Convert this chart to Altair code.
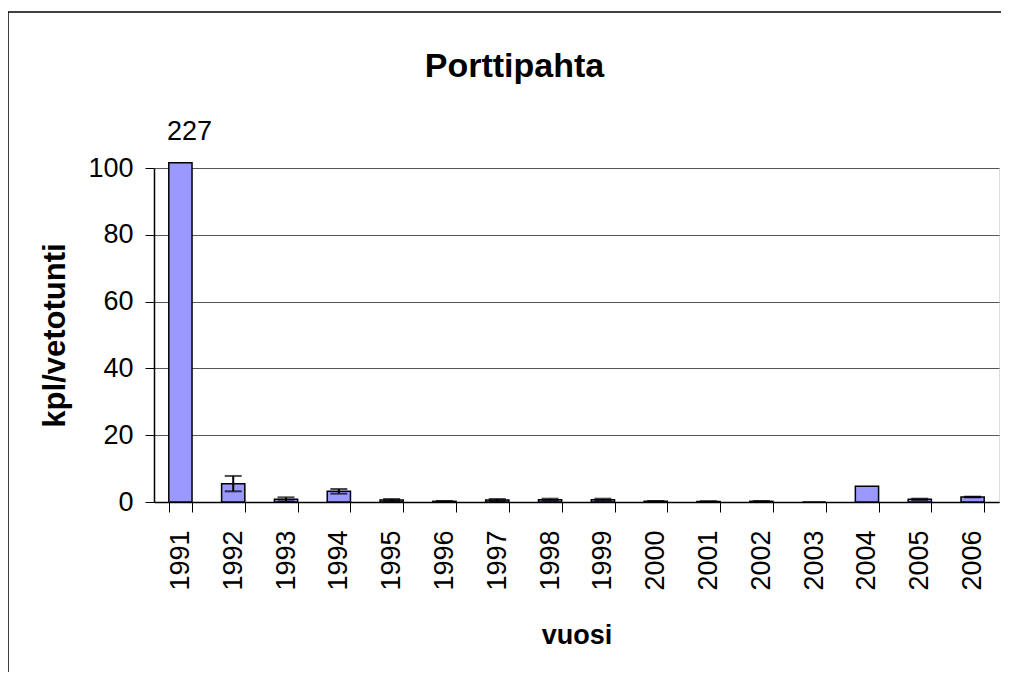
import altair as alt
import pandas as pd

years = ["1991", "1992", "1993", "1994", "1995", "1996", "1997", "1998",
         "1999", "2000", "2001", "2002", "2003", "2004", "2005", "2006"]
values = [227, 5.5, 0.8, 3.2, 0.6, 0.2, 0.6, 0.7, 0.7, 0.2, 0.15, 0.2, 0.0, 4.7, 0.8, 1.5]
errors = [0, 2.3, 0.6, 0.7, 0.3, 0.1, 0.3, 0.3, 0.3, 0.1, 0.05, 0.05, 0.0, 0.0, 0.2, 0.1]
y_ticks = [0, 20, 40, 60, 80, 100]

FONT = "Liberation Sans"

df = pd.DataFrame({"vuosi": years, "arvo": values, "virhe": errors})

x_enc = alt.X("vuosi:N", sort=years,
              scale=alt.Scale(paddingInner=0.56, paddingOuter=0.28),
              axis=alt.Axis(title="vuosi", labelAngle=270, labelFontSize=27, labelFont=FONT,
                            labelColor="black", labelPadding=18, tickSize=10, tickColor="black",
                            tickBand="extent", domainColor="black", domainWidth=1.5,
                            titleFont=FONT, titleFontSize=27, titleFontWeight="bold",
                            titleColor="black", titleY=141, titleBaseline="alphabetic"))

y_scale = alt.Scale(domain=[0, 100], nice=False)

base = alt.Chart(df)

bars = base.transform_calculate(
    shown="min(datum.arvo, 101.6)"
).mark_bar(color="#9999FF", stroke="black", strokeWidth=1.5, clip=False).encode(
    x=x_enc,
    y=alt.Y("shown:Q", scale=y_scale,
            axis=alt.Axis(title="kpl/vetotunti", values=y_ticks, labelFontSize=27, labelFont=FONT,
                          labelColor="black", labelPadding=12, tickSize=9, tickColor="black",
                          domainColor="black", domainWidth=1.5, grid=True, gridColor="#555555",
                          gridWidth=1, titleFont=FONT, titleFontSize=31, titleFontWeight="bold",
                          titleColor="black", titleAngle=270, titleX=-90,
                          titleBaseline="alphabetic")),
)

err = base.transform_filter("datum.virhe > 0 && datum.arvo < 100").transform_calculate(
    lo="datum.arvo - datum.virhe", hi="datum.arvo + datum.virhe"
)

err_rule = err.mark_rule(color="black", strokeWidth=2).encode(
    x=alt.X("vuosi:N", sort=years), y=alt.Y("lo:Q", scale=y_scale), y2="hi:Q"
)

err_caps = err.transform_fold(["lo", "hi"], as_=["kind", "pos"]).mark_tick(
    color="black", thickness=2, size=17
).encode(x=alt.X("vuosi:N", sort=years), y=alt.Y("pos:Q", scale=y_scale))

label = base.transform_filter("datum.arvo > 100").transform_calculate(
    shown="min(datum.arvo, 101.6)"
).mark_text(font=FONT, fontSize=27, color="black", baseline="bottom", dx=9, dy=-17).encode(
    x=alt.X("vuosi:N", sort=years), y=alt.Y("shown:Q", scale=y_scale), text="arvo:Q"
)

frame_top = alt.Chart(pd.DataFrame({"k": [0]})).mark_rule(color="black", strokeWidth=1.5).encode(
    x=alt.value(-146), x2=alt.value(900), y=alt.value(-156)
)
frame_left = alt.Chart(pd.DataFrame({"k": [0]})).mark_rule(color="black", strokeWidth=1.5).encode(
    x=alt.value(-146), y=alt.value(-156), y2=alt.value(520)
)

chart = alt.layer(frame_top, frame_left, bars, err_rule, err_caps, label).properties(
    width=845, height=334,
    title=alt.TitleParams("Porttipahta", font=FONT, fontSize=34, fontWeight="bold",
                          color="black", anchor="middle", dx=-62, offset=0, dy=73),
    padding={"left": 146, "top": 160, "right": 2, "bottom": 170},
    autosize=alt.AutoSizeParams(type="none"),
).configure_view(stroke="#808080", strokeWidth=1.5).configure(background="white")

chart.save("out.html", embed_options={"renderer": "svg", "actions": False})
